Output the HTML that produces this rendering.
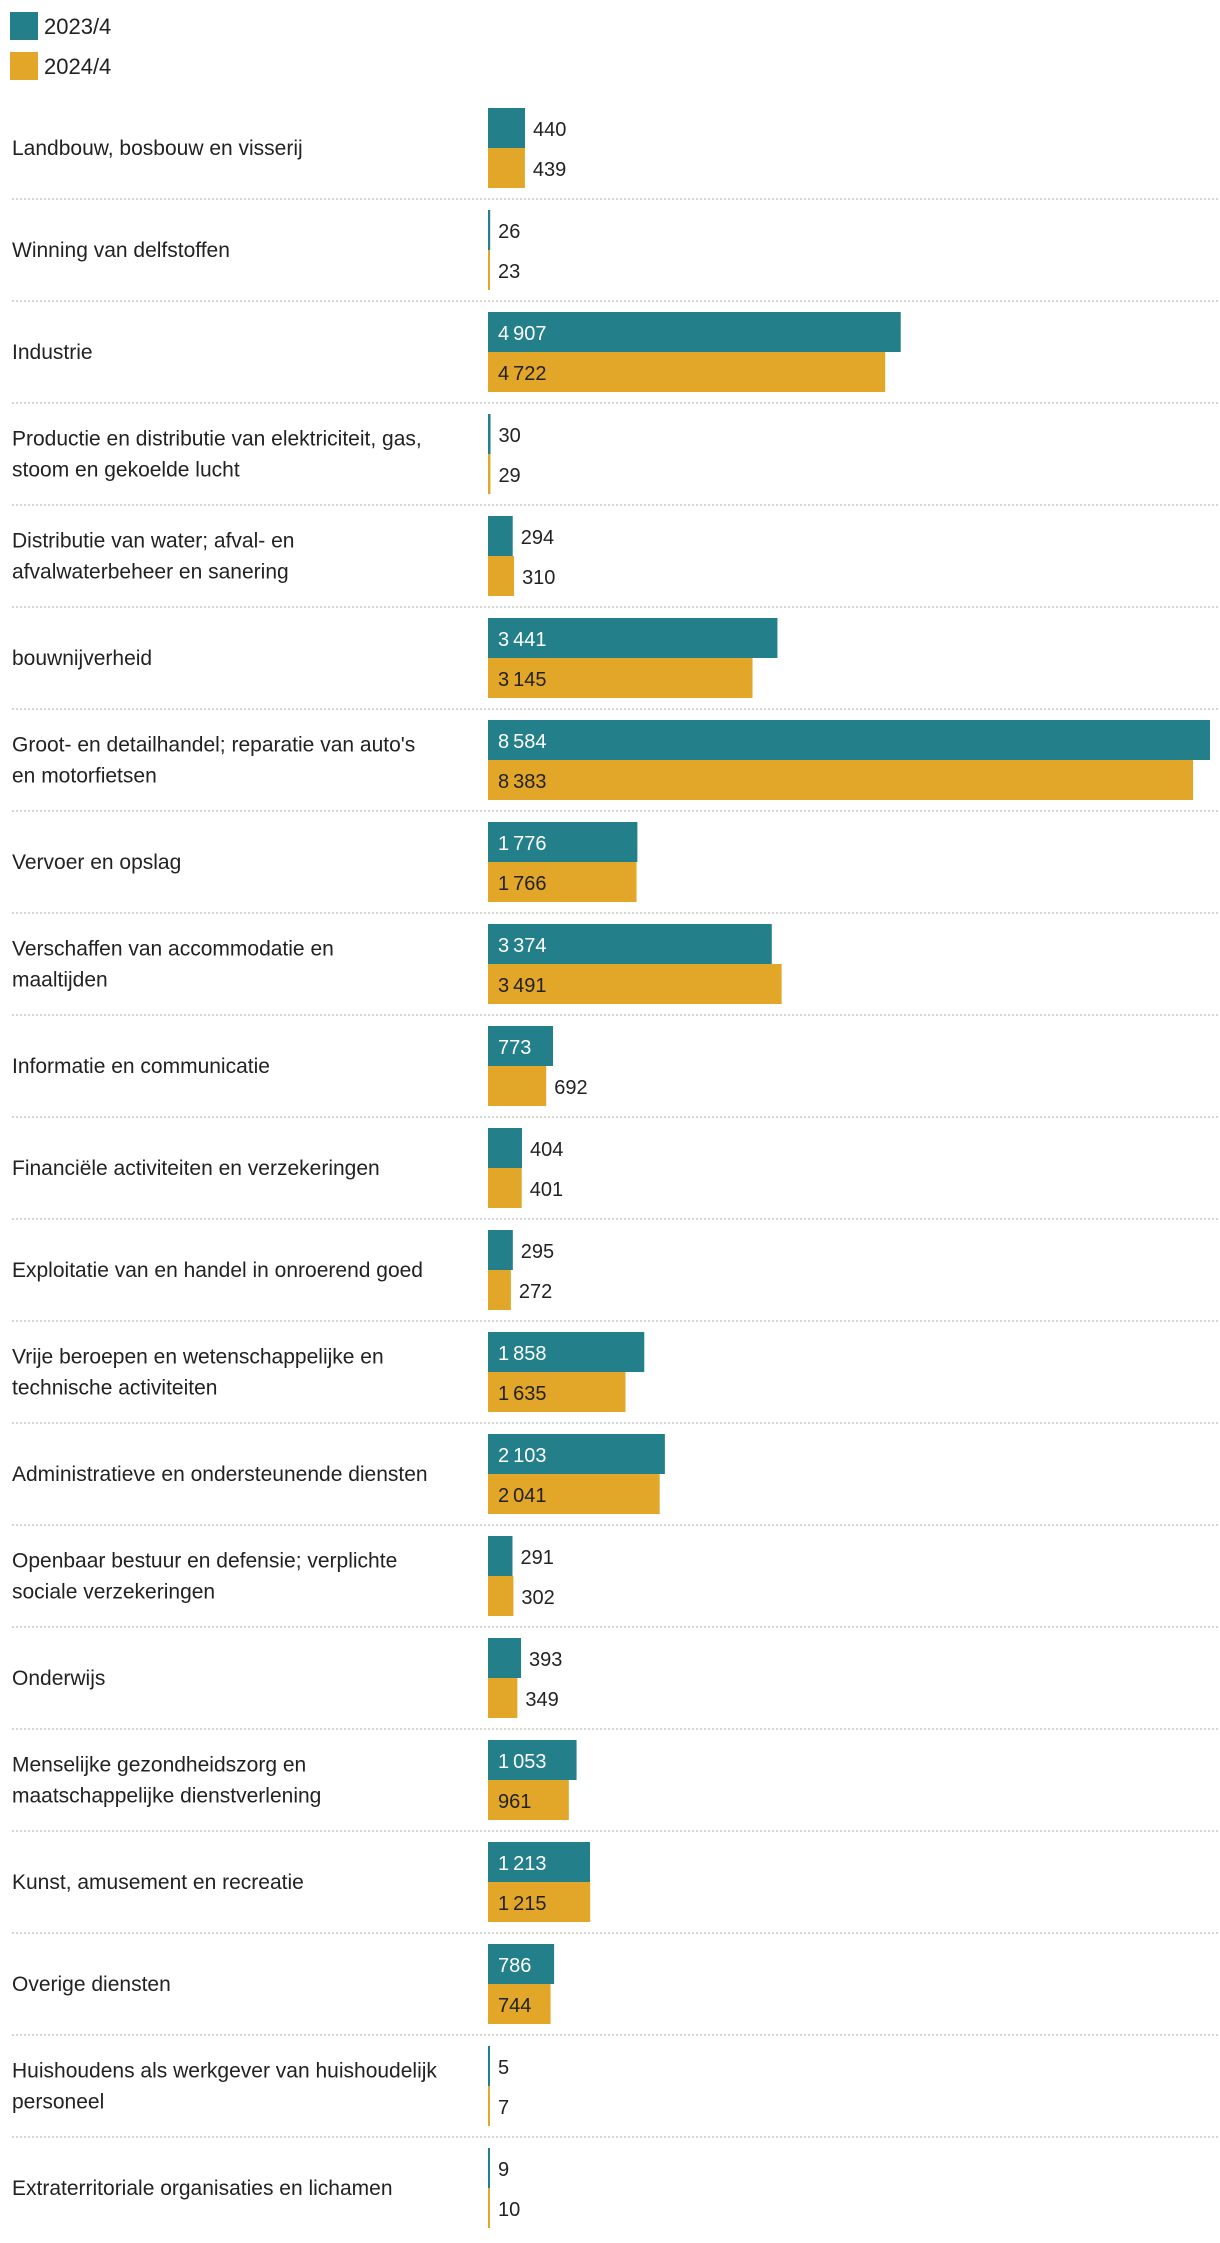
<!DOCTYPE html>
<html><head><meta charset="utf-8"><style>
html,body{margin:0;padding:0;background:#fff;}
body{width:1220px;height:2238px;overflow:hidden;font-family:"Liberation Sans",sans-serif;}
svg text{font-family:"Liberation Sans",sans-serif;}
</style></head><body>
<svg id="chart" width="1220" height="2238" xmlns="http://www.w3.org/2000/svg">
<g>
<rect x="10" y="12" width="28" height="28" fill="#237f8a"/>
<text x="44" y="34" font-size="22" fill="#222">2023/4</text>
<rect x="10" y="52" width="28" height="28" fill="#e2a628"/>
<text x="44" y="74" font-size="22" fill="#222">2024/4</text>
</g>
<g id="rows"></g>
</svg>
<script>
const categories = [
["Landbouw, bosbouw en visserij"],
["Winning van delfstoffen"],
["Industrie"],
["Productie en distributie van elektriciteit, gas,","stoom en gekoelde lucht"],
["Distributie van water; afval- en","afvalwaterbeheer en sanering"],
["bouwnijverheid"],
["Groot- en detailhandel; reparatie van auto's","en motorfietsen"],
["Vervoer en opslag"],
["Verschaffen van accommodatie en","maaltijden"],
["Informatie en communicatie"],
["Financiële activiteiten en verzekeringen"],
["Exploitatie van en handel in onroerend goed"],
["Vrije beroepen en wetenschappelijke en","technische activiteiten"],
["Administratieve en ondersteunende diensten"],
["Openbaar bestuur en defensie; verplichte","sociale verzekeringen"],
["Onderwijs"],
["Menselijke gezondheidszorg en","maatschappelijke dienstverlening"],
["Kunst, amusement en recreatie"],
["Overige diensten"],
["Huishoudens als werkgever van huishoudelijk","personeel"],
["Extraterritoriale organisaties en lichamen"]
];
const series2023 = [440,26,4907,30,294,3441,8584,1776,3374,773,404,295,1858,2103,291,393,1053,1213,786,5,9];
const series2024 = [439,23,4722,29,310,3145,8383,1766,3491,692,401,272,1635,2041,302,349,961,1215,744,7,10];
const domainMax = 8584;

const NS="http://www.w3.org/2000/svg";
const g=document.getElementById('rows');
const X0=488, W=722, TOP=108, PITCH=102, BH=40;
function x(v){return W*v/domainMax;}
function fmt(v){return String(v).replace(/\B(?=(\d{3})+(?!\d))/g,"\u2009");}
function mk(tag,attrs){const e=document.createElementNS(NS,tag);for(const k in attrs)e.setAttribute(k,attrs[k]);return e;}
categories.forEach((lines,i)=>{
  const y=TOP+i*PITCH;
  const cy=y+BH;
  const lab=mk('text',{x:12,'font-size':21,fill:'#222'});
  
  
  lines.forEach((l,j)=>{
    const ts=mk('tspan',{x:12,y:(cy+7-(lines.length-1)*15.5+j*31)});
    ts.textContent=l;lab.appendChild(ts);
  });
  g.appendChild(lab);
  [[series2023,'#237f8a','#fff','bar-2023'],[series2024,'#e2a628','#222','bar-2024']].forEach((s,k)=>{
    const v=s[0][i], w=Math.max(2,x(v)), by=y+k*BH;
    const r=mk('rect',{x:X0,y:by,width:w,height:BH,fill:s[1]});
    
    
    g.appendChild(r);
    const inside=w>60;
    const t=mk('text',{x:inside?X0+10:X0+w+8,y:by+28,'font-size':20,fill:inside?s[2]:'#222'});
    
    
    t.textContent=fmt(v);
    g.appendChild(t);
  });
  if(i<categories.length-1){
    const ln=mk('line',{x1:12,x2:1220,y1:y+91,y2:y+91,stroke:'#d6d6d6','stroke-width':2,'stroke-dasharray':'2 2'});
    
    
    g.appendChild(ln);
  }
});
</script>
</body></html>
